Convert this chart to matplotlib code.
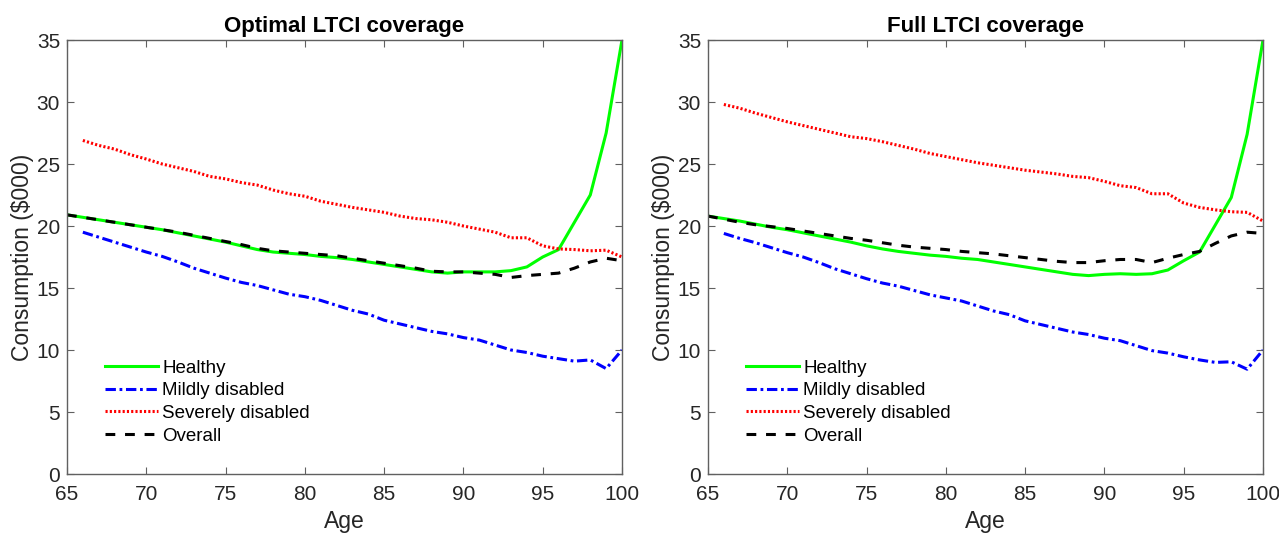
import numpy as np
import matplotlib
matplotlib.use("Agg")
import matplotlib.pyplot as plt

plt.rcParams['font.family'] = ['Liberation Sans', 'DejaVu Sans']

# ages
ages_all = list(range(65, 101))   # healthy / overall start at 65
ages_dis = list(range(66, 101))   # disabled states start at 66

# ---- Optimal LTCI coverage ----
opt_healthy = [20.9, 20.7, 20.5, 20.3, 20.1, 19.9, 19.7, 19.45, 19.2, 18.95,
               18.7, 18.4, 18.1, 17.9, 17.8, 17.7, 17.55, 17.45, 17.3, 17.1,
               16.9, 16.7, 16.5, 16.3, 16.2, 16.3, 16.3, 16.3, 16.4, 16.7,
               17.5, 18.1, 20.3, 22.5, 27.5, 35.0]
opt_overall = [20.9, 20.7, 20.5, 20.3, 20.1, 19.9, 19.7, 19.5, 19.25, 19.0,
               18.75, 18.5, 18.2, 18.0, 17.9, 17.8, 17.7, 17.6, 17.4, 17.2,
               17.0, 16.8, 16.6, 16.35, 16.3, 16.3, 16.2, 16.1, 15.85, 16.0,
               16.1, 16.2, 16.6, 17.1, 17.4, 17.2]
opt_mild = [19.5, 19.1, 18.7, 18.3, 17.9, 17.55, 17.1, 16.6, 16.2, 15.8,
            15.45, 15.2, 14.85, 14.5, 14.3, 14.0, 13.6, 13.2, 12.9, 12.4,
            12.1, 11.8, 11.5, 11.3, 11.0, 10.8, 10.4, 10.0, 9.8, 9.5,
            9.3, 9.1, 9.2, 8.5, 10.0]
opt_severe = [26.9, 26.5, 26.2, 25.75, 25.4, 25.0, 24.7, 24.4, 24.0, 23.8,
              23.5, 23.3, 22.9, 22.6, 22.4, 22.0, 21.75, 21.5, 21.3, 21.1,
              20.8, 20.6, 20.5, 20.3, 20.0, 19.75, 19.5, 19.05, 19.05, 18.4,
              18.15, 18.1, 18.0, 18.05, 17.5]

# ---- Full LTCI coverage ----
full_healthy = [20.8, 20.6, 20.4, 20.15, 19.9, 19.7, 19.45, 19.2, 18.95, 18.7,
                18.4, 18.15, 17.95, 17.8, 17.65, 17.55, 17.4, 17.3, 17.1, 16.9,
                16.7, 16.5, 16.3, 16.1, 16.0, 16.1, 16.15, 16.1, 16.15, 16.45,
                17.2, 17.9, 20.1, 22.3, 27.4, 35.0]
full_overall = [20.8, 20.55, 20.3, 20.1, 19.95, 19.8, 19.6, 19.4, 19.2, 19.0,
                18.85, 18.65, 18.45, 18.3, 18.2, 18.1, 17.95, 17.85, 17.75, 17.6,
                17.45, 17.3, 17.15, 17.05, 17.05, 17.2, 17.3, 17.3, 17.05, 17.4,
                17.7, 17.95, 18.6, 19.2, 19.5, 19.4]
full_mild = [19.4, 19.0, 18.65, 18.25, 17.85, 17.5, 17.05, 16.55, 16.15, 15.75,
             15.4, 15.15, 14.8, 14.45, 14.2, 13.95, 13.55, 13.15, 12.85, 12.35,
             12.05, 11.75, 11.45, 11.25, 10.95, 10.75, 10.35, 9.95, 9.75, 9.45,
             9.2, 9.0, 9.05, 8.45, 10.0]
full_severe = [29.8, 29.5, 29.1, 28.75, 28.4, 28.1, 27.8, 27.5, 27.2, 27.05,
               26.8, 26.5, 26.2, 25.85, 25.6, 25.35, 25.1, 24.9, 24.7, 24.5,
               24.35, 24.2, 24.0, 23.9, 23.6, 23.25, 23.1, 22.6, 22.6, 21.85,
               21.5, 21.3, 21.15, 21.1, 20.4]

titles = ['Optimal LTCI coverage', 'Full LTCI coverage']
labels = ['Healthy', 'Mildly disabled', 'Severely disabled', 'Overall']
panels = [(opt_healthy, opt_mild, opt_severe, opt_overall),
          (full_healthy, full_mild, full_severe, full_overall)]

fig = plt.figure(figsize=(12.79, 5.35), dpi=100)
lefts = [67 / 1279, 708 / 1279]
lw = 2.2
axis_col = '#606060'

for k in range(2):
    ax = fig.add_axes([lefts[k], 61 / 535, 555 / 1279, 434 / 535])
    h, m, s, o = panels[k]
    ax.plot(ages_all, h, color=(0, 1, 0), lw=lw, label=labels[0])
    ax.plot(ages_dis, m, color=(0, 0, 1), lw=lw, dashes=(3.4, 1.2, 0.9, 1.2), label=labels[1])
    ax.plot(ages_dis, s, color=(1, 0, 0), lw=lw, dashes=(0.7, 0.7), label=labels[2])
    ax.plot(ages_all, o, color='black', lw=lw, dashes=(3.2, 3.2), label=labels[3])

    ax.set_xlim(65, 100)
    ax.set_ylim(0, 35)
    ax.set_xticks(range(65, 101, 5))
    ax.set_yticks(range(0, 36, 5))
    ax.tick_params(direction='in', top=True, right=True, length=5, width=0.8,
                   color=axis_col, labelsize=15, labelcolor='#262626')
    ax.tick_params(axis='x', pad=8)
    ax.tick_params(axis='y', pad=5)
    for sp in ax.spines.values():
        sp.set_color(axis_col)
        sp.set_linewidth(1.0)

    ax.set_title(titles[k], fontsize=16, fontweight='bold', pad=6)
    ax.set_xlabel('Age', fontsize=16.5, color='#262626', labelpad=4)
    ax.set_ylabel('Consumption ($000)', fontsize=16.5, color='#262626', labelpad=2)

    ax.legend(loc='lower left', bbox_to_anchor=(0.055, 0.05), frameon=False,
              fontsize=13.5, handlelength=2.8, handletextpad=0.25,
              labelspacing=0.3, borderaxespad=0.0)

fig.savefig('out.png', dpi=100)
